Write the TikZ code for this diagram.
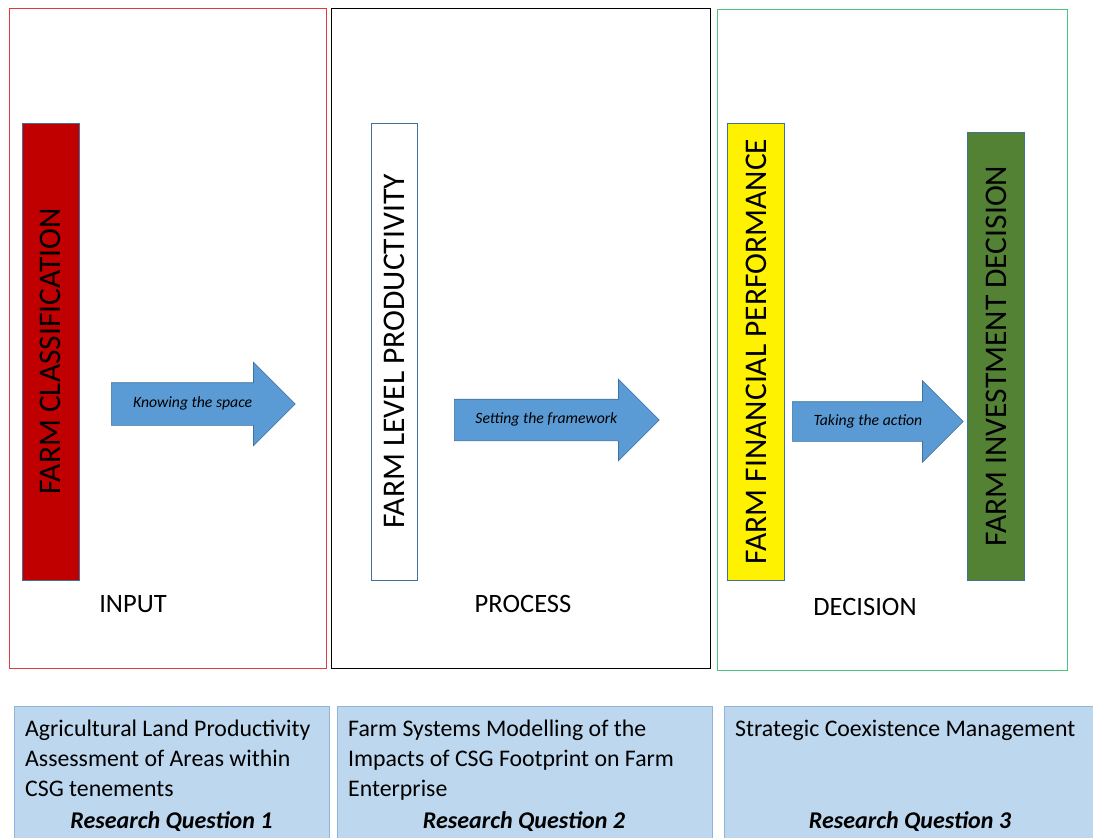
\documentclass[tikz,border=0pt]{standalone}
\usepackage{fontspec}
\setmainfont{Carlito}
\usetikzlibrary{positioning,shapes.arrows}
\definecolor{barred}{HTML}{C00000}
\definecolor{bargreen}{HTML}{548235}
\definecolor{edgeblue}{HTML}{41719C}
\definecolor{arrowblue}{HTML}{5B9BD5}
\definecolor{rqfill}{HTML}{BDD7EE}
\definecolor{rqedge}{HTML}{8FB4DE}
\definecolor{framered}{HTML}{E03A3E}
\definecolor{framegreen}{HTML}{4CC47E}
\tikzset{
  frame/.style={draw, line width=1pt, inner sep=0pt},
  bar/.style={draw=edgeblue, line width=0.8pt, rotate=90, minimum width=457pt,
    minimum height=57pt, inner sep=0pt, font=\fontsize{31.5}{34}\selectfont},
  flow/.style={single arrow, draw=edgeblue, line width=0.6pt, fill=arrowblue,
    anchor=west, inner xsep=4pt, text height=10pt, text depth=3pt,
    font=\itshape\fontsize{15.7}{18}\selectfont},
  stage/.style={font=\fontsize{26.5}{30}\selectfont},
  rqbox/.style={draw=rqedge, fill=rqfill, line width=0.8pt, anchor=north west, inner sep=0pt},
  rqtext/.style={anchor=north west, align=left, inner sep=0pt,
    font=\fontsize{23.8}{30}\selectfont},
  rqname/.style={anchor=base, font=\bfseries\itshape\fontsize{24}{28}\selectfont},
}

\begin{document}
\begin{tikzpicture}[x=1pt, y=-1pt]
  \useasboundingbox (0,0) rectangle (1093,838);

  % stage frames
  \node[frame, draw=framered, minimum width=317pt, minimum height=660pt] (input) at (167.5,338) {};
  \node[frame, draw=black, minimum width=379pt, minimum height=660pt] (process) at (520.5,338) {};
  \node[frame, draw=framegreen, minimum width=350pt, minimum height=661pt] (decision) at (892,339.5) {};

  % bars
  \node[bar, fill=barred] (classif) at (50.5,351.5) {FARM CLASSIFICATION};
  \node[bar, fill=white, minimum height=46pt] (product) at (394,351.5) {FARM LEVEL PRODUCTIVITY};
  \node[bar, fill=yellow] (finance) at (756,351.5) {FARM FINANCIAL PERFORMANCE};
  \node[bar, fill=bargreen, minimum width=448pt] (invest) at (996,356) {FARM INVESTMENT DECISION};

  % block arrows
  \node[flow, minimum height=184pt, minimum width=83pt, inner ysep=14.5pt,
    single arrow head extend=20.5pt] (knowing) at (111,404) {Knowing the space};
  \node[flow, minimum height=205pt, minimum width=81pt, inner ysep=14pt,
    single arrow head extend=20pt] (setting) at (454,420) {Setting the framework};
  \node[flow, minimum height=171pt, minimum width=81pt, inner ysep=13pt,
    single arrow head extend=21pt] (taking) at (792,421.5) {Taking the action};

  % stage names
  \node[stage] (inlabel) at (133,604) {INPUT};
  \node[stage] (proclabel) at (523,604) {PROCESS};
  \node[stage] (declabel) at (865,607) {DECISION};

  % research questions
  \node[rqbox, minimum width=315pt, minimum height=150pt] (rq1) at (14,706) {};
  \node[rqbox, minimum width=375pt, minimum height=150pt] (rq2) at (337,706) {};
  \node[rqbox, minimum width=380pt, minimum height=150pt] (rq3) at (724,706) {};

  \node[rqtext] (rq1text) at ([xshift=11pt,yshift=-14pt]rq1.north west)
    {Agricultural Land Productivity\\Assessment of Areas within\\CSG tenements};
  \node[rqtext] (rq2text) at ([xshift=11pt,yshift=-14pt]rq2.north west)
    {Farm Systems Modelling of the\\Impacts of CSG Footprint on Farm\\Enterprise};
  \node[rqtext] (rq3text) at ([xshift=11pt,yshift=-14pt]rq3.north west)
    {Strategic Coexistence Management};

  \node[rqname] (rq1name) at (171.5,828) {Research Question 1};
  \node[rqname] (rq2name) at (524,828) {Research Question 2};
  \node[rqname] (rq3name) at (910,828) {Research Question 3};
\end{tikzpicture}
\end{document}
